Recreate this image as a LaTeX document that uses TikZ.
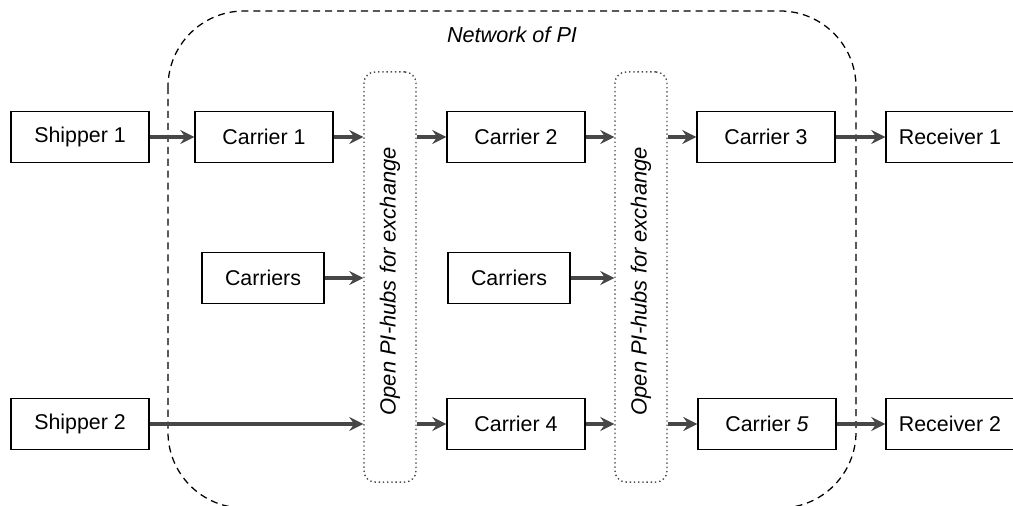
\documentclass[tikz,border=0pt]{standalone}
\usepackage{fontspec}
\setmainfont{Liberation Sans}
\usetikzlibrary{arrows.meta}
\tikzset{
  box/.style={draw, line width=1pt, minimum width=3.45cm, minimum height=1.27cm, inner sep=0pt, font=\fontsize{15.2}{17}\selectfont},
  smallbox/.style={box, minimum width=3.05cm},
  hub/.style={draw=black!70, dotted, line width=1pt, rounded corners=8pt, minimum width=1.3cm, minimum height=10.25cm, inner sep=0pt},
  flow/.style={-{Stealth[length=10pt,width=10pt,inset=3.5pt]}, line width=2.2pt, draw=black!72}
}
\begin{document}
\begin{tikzpicture}[x=0.025cm, y=-0.025cm]
	\useasboundingbox (0,0) rectangle (1013,506);
	% network region
	\draw[dash pattern=on 5pt off 3.5pt, line width=0.9pt, rounded corners=1.9cm] (168,11) rectangle (856,508);
	\node[font=\fontsize{15.4}{17}\selectfont\itshape] (net) at (512,35) {Network of PI};
	% hubs
	\node[hub] (hub1) at (390,277) {};
	\node[hub] (hub2) at (641,277) {};
	\node[rotate=90, font=\fontsize{15.6}{17}\selectfont\itshape] at ([yshift=-3pt]hub1) {Open PI-hubs for exchange};
	\node[rotate=90, font=\fontsize{15.6}{17}\selectfont\itshape] at ([yshift=-3pt]hub2) {Open PI-hubs for exchange};
	% top row
	\node[box] (ship1) at (80,137) {Shipper 1};
	\node[box] (car1) at (264,137) {Carrier 1};
	\node[box] (car2) at (516,137) {Carrier 2};
	\node[box] (car3) at (766,137) {Carrier 3};
	\node[box, minimum width=3.2cm] (rec1) at (950,137) {Receiver 1};
	% middle row
	\node[smallbox] (cars1) at (263,278) {Carriers};
	\node[smallbox] (cars2) at (509,278) {Carriers};
	% bottom row
	\node[box] (ship2) at (80,424) {Shipper 2};
	\node[box] (car4) at (516,424) {Carrier 4};
	\node[box] (car5) at (767,424) {Carrier \textit{5}};
	\node[box, minimum width=3.2cm] (rec2) at (950,424) {Receiver 2};
	% flows
	\draw[flow] (ship1) -- (car1);
	\draw[flow] (car1) -- (car1 -| hub1.west);
	\draw[flow] (car1 -| hub1.east) -- (car2);
	\draw[flow] (car2) -- (car2 -| hub2.west);
	\draw[flow] (car2 -| hub2.east) -- (car3);
	\draw[flow] (car3) -- (rec1);
	\draw[flow] (cars1) -- (cars1 -| hub1.west);
	\draw[flow] (cars2) -- (cars2 -| hub2.west);
	\draw[flow] (ship2) -- (ship2 -| hub1.west);
	\draw[flow] (ship2 -| hub1.east) -- (car4);
	\draw[flow] (car4) -- (car4 -| hub2.west);
	\draw[flow] (car4 -| hub2.east) -- (car5);
	\draw[flow] (car5) -- (rec2);
\end{tikzpicture}
\end{document}
